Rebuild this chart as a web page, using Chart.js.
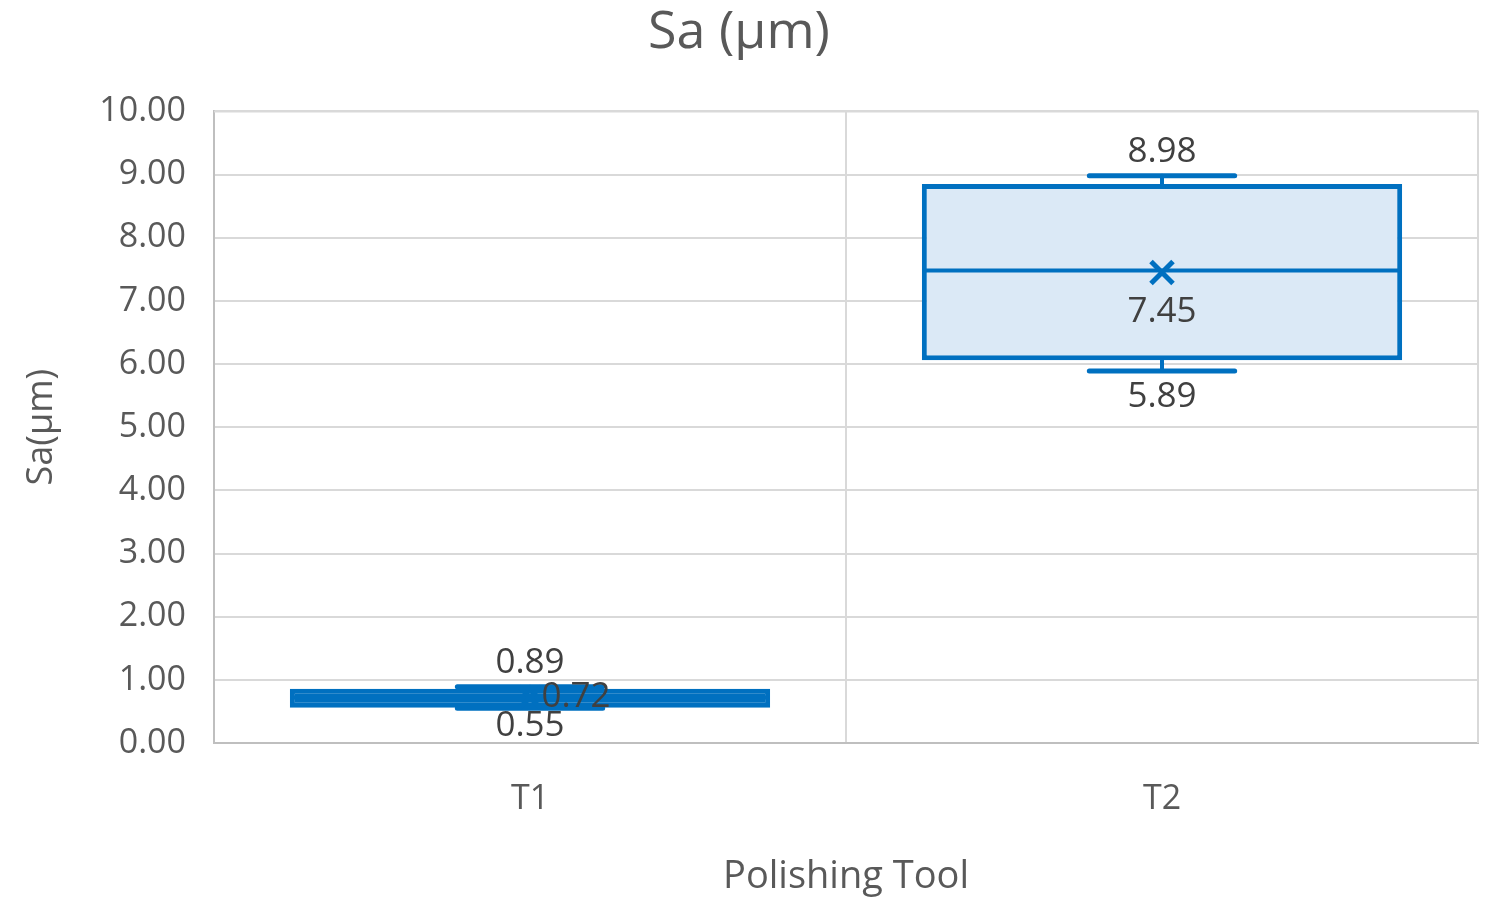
<!DOCTYPE html>
<html>
<head>
<meta charset="utf-8">
<script src="https://cdn.jsdelivr.net/npm/chart.js@4/dist/chart.umd.min.js"></script>
<style>
  html, body { margin: 0; padding: 0; background: #fff; }
  #wrap { width: 1500px; height: 917px; }
</style>
</head>
<body>
<div id="wrap"><canvas id="saChart"></canvas></div>
<script>
// Box plot values
const categories = ["T1", "T2"];
const minVals = [0.55, 5.89];
const q1Vals = [0.56, 6.06];
const medianVals = [0.72, 7.48];
const q3Vals = [0.86, 8.85];
const maxVals = [0.89, 8.98];
const meanVals = [0.72, 7.45];
const yTickVals = [0, 1, 2, 3, 4, 5, 6, 7, 8, 9, 10];

const blue = "#0070c0";
const textGrey = "#595959";
const labelGrey = "#404040";
const fontFamily = "'Open Sans', 'Noto Sans', sans-serif";
// where Excel put the mean label for each box
const meanLabelSide = ["right", "below"];

// whiskers, median, mean marker and value labels drawn on top of the floating bars
const boxExtras = {
    id: "boxExtras",
    afterDatasetsDraw(chart) {
        const ctx = chart.ctx;
        const x = chart.scales.x;
        const y = chart.scales.y;
        const catW = x.getPixelForValue(1) - x.getPixelForValue(0);
        const boxHalf = catW * 0.76 / 2;
        const capHalf = catW * 0.23 / 2;
        ctx.save();
        ctx.strokeStyle = blue;
        categories.forEach((c, i) => {
            const cx = x.getPixelForValue(i);
            ctx.lineCap = "round";
            // whiskers
            ctx.lineWidth = 4;
            ctx.beginPath();
            ctx.moveTo(cx, y.getPixelForValue(q3Vals[i]));
            ctx.lineTo(cx, y.getPixelForValue(maxVals[i]));
            ctx.moveTo(cx, y.getPixelForValue(q1Vals[i]));
            ctx.lineTo(cx, y.getPixelForValue(minVals[i]));
            ctx.stroke();
            // caps
            ctx.lineWidth = 5;
            ctx.beginPath();
            ctx.moveTo(cx - capHalf, y.getPixelForValue(maxVals[i]));
            ctx.lineTo(cx + capHalf, y.getPixelForValue(maxVals[i]));
            ctx.moveTo(cx - capHalf, y.getPixelForValue(minVals[i]));
            ctx.lineTo(cx + capHalf, y.getPixelForValue(minVals[i]));
            ctx.stroke();
            // median
            ctx.lineWidth = 4;
            ctx.lineCap = "butt";
            ctx.beginPath();
            ctx.moveTo(cx - boxHalf + 2, y.getPixelForValue(medianVals[i]));
            ctx.lineTo(cx + boxHalf - 2, y.getPixelForValue(medianVals[i]));
            ctx.stroke();
            // mean marker (x)
            const my = y.getPixelForValue(meanVals[i]);
            ctx.lineWidth = 5;
            ctx.beginPath();
            ctx.moveTo(cx - 11, my - 11);
            ctx.lineTo(cx + 11, my + 11);
            ctx.moveTo(cx + 11, my - 11);
            ctx.lineTo(cx - 11, my + 11);
            ctx.stroke();

            // labels
            ctx.fillStyle = labelGrey;
            ctx.font = "35px " + fontFamily;
            ctx.textAlign = "center";
            ctx.textBaseline = "middle";
            ctx.fillText(maxVals[i].toFixed(2), cx, y.getPixelForValue(maxVals[i]) - 24);
            ctx.fillText(minVals[i].toFixed(2), cx, y.getPixelForValue(minVals[i]) + (i === 0 ? 18 : 26));
            if (meanLabelSide[i] === "right") {
                ctx.fillText(meanVals[i].toFixed(2), cx + 46, my);
            } else {
                ctx.fillText(meanVals[i].toFixed(2), cx, my + 40);
            }
        });
        ctx.restore();
    }
};

// grey frame on top and right of the plot area
const plotFrame = {
    id: "plotFrame",
    beforeDatasetsDraw(chart) {
        const a = chart.chartArea;
        const ctx = chart.ctx;
        ctx.save();
        ctx.strokeStyle = "#d9d9d9";
        ctx.lineWidth = 2;
        ctx.beginPath();
        ctx.moveTo(a.left, a.top);
        ctx.lineTo(a.right, a.top);
        ctx.lineTo(a.right, a.bottom);
        ctx.stroke();
        ctx.restore();
    }
};

document.addEventListener("DOMContentLoaded", function () {
    const ctx = document.getElementById("saChart");
    new Chart(ctx, {
        type: "bar",
        data: {
            labels: categories,
            datasets: [{
                label: "Sa",
                data: categories.map((c, i) => [q1Vals[i], q3Vals[i]]),
                backgroundColor: [blue, "#dbe9f6"],
                borderColor: blue,
                borderWidth: 5,
                borderSkipped: false,
                categoryPercentage: 1,
                barPercentage: 0.76
            }]
        },
        options: {
            responsive: true,
            maintainAspectRatio: false,
            animation: false,
            layout: { padding: { left: 0, right: 22, top: 0, bottom: 0 } },
            plugins: {
                legend: { display: false },
                tooltip: { enabled: false },
                title: {
                    display: true,
                    text: "Sa (µm)",
                    color: textGrey,
                    font: { family: fontFamily, size: 52, weight: "normal" },
                    padding: { top: 2, bottom: 47 }
                }
            },
            scales: {
                x: {
                    afterFit(scale) { scale.height = 174; },
                    grid: { color: "#d9d9d9", lineWidth: 2, drawTicks: false, offset: true },
                    border: { color: "#bfbfbf", width: 2 },
                    ticks: {
                        color: textGrey,
                        padding: 36,
                        font: { family: fontFamily, size: 34 }
                    },
                    title: {
                        display: true,
                        text: "Polishing Tool",
                        color: textGrey,
                        font: { family: fontFamily, size: 38 },
                        padding: { top: 0, bottom: 17 }
                    }
                },
                y: {
                    min: 0,
                    max: 10,
                    afterFit(scale) { scale.width = 214; },
                    afterBuildTicks(scale) { scale.ticks = yTickVals.map(v => ({ value: v })); },
                    grid: { color: "#d9d9d9", lineWidth: 2, drawTicks: false },
                    border: { color: "#bfbfbf", width: 2 },
                    ticks: {
                        color: textGrey,
                        padding: 28,
                        font: { family: fontFamily, size: 34 },
                        callback: v => Number(v).toFixed(2)
                    },
                    title: {
                        display: true,
                        text: "Sa(µm)",
                        color: textGrey,
                        font: { family: fontFamily, size: 36 },
                        padding: { top: 20, bottom: 0 }
                    }
                }
            }
        },
        plugins: [plotFrame, boxExtras]
    });
});
</script>
</body>
</html>
